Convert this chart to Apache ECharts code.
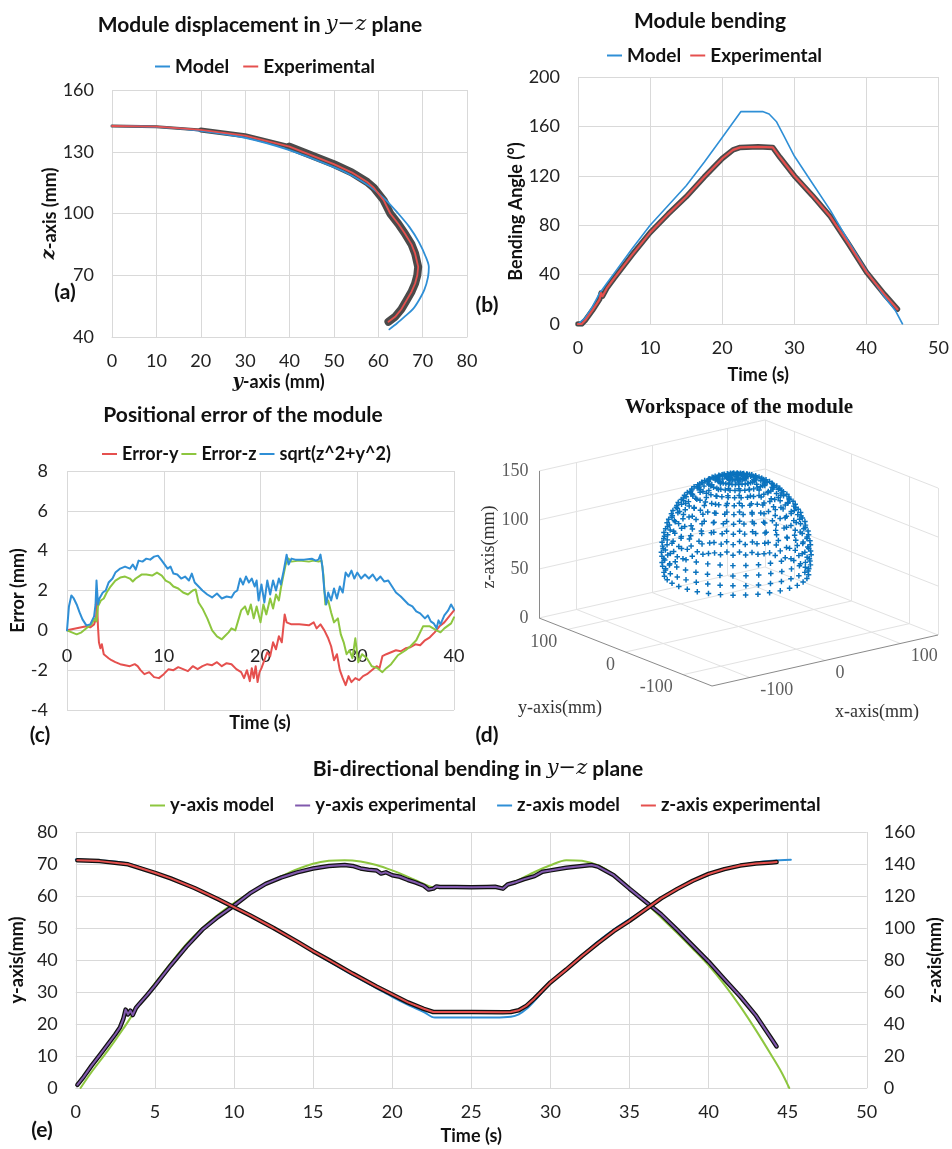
<!DOCTYPE html>
<html>
<head>
<meta charset="utf-8">
<script src="https://cdn.jsdelivr.net/npm/echarts@6/dist/echarts.min.js"></script>
<style>
html, body { margin: 0; padding: 0; background: #fff; }
#main { width: 952px; height: 1149px; }
</style>
</head>
<body>
<div id="main"></div>
<script>
// ---------- (a) module displacement in y-z plane, [y, z] mm
const aModel = [[0,142.5],[10,142.1],[20,140.2],[30,136.8],[40,130.8],[50,122.5],[54,118.5],[58,113.3],[61.5,107],[64.5,100],[67,93.5],[69.2,86],[70.7,79],[71.4,74],[71.2,69],[70.4,63],[69.2,58],[67.8,53.5],[66,50],[64.3,46.8],[62.5,43.7]];
const aExp = [[0,142.5],[10,142.2],[20,140.6],[30,137.8],[40,132.5],[50,124],[54,120],[57.5,115.3],[59,112.5],[61.2,106.5],[62.7,100],[64.5,95],[66,90.3],[67.5,85],[68.3,80.6],[69,74.1],[68.8,70],[68.3,66],[67.5,62],[66.4,57.9],[65.2,53.5],[63.8,49.8],[62.3,47.4]];

// ---------- (b) bending angle, [time s, angle deg]
const bModel = [[0,0],[1,5],[2,14],[3,25],[4,33],[5,41],[7.5,61],[10,80],[12.5,96],[15,112],[17.5,131],[20,151],[22.6,172],[25.6,172],[26.5,170],[27.5,164],[28.5,153],[30,136],[32.5,114],[35,92],[37.5,67],[40,43],[42.5,22],[44,11],[45,0]];
const bExp = [[0,0],[0.5,0],[1,3],[2,11],[3,20],[3.2,25],[3.4,22.5],[4,29],[5,37],[7.5,56],[10,74],[12.5,89],[15,103],[17.5,119],[20,134],[21.5,141],[22.5,143],[25,143.5],[27,143],[28,135],[30,120],[32.5,104],[35,87],[37.5,65],[40,42],[42.5,24],[44.3,12]];

// ---------- (c) positional error, [time s, error mm]
const errY = [[0,0],[0.5,0.05],[1,0.1],[1.5,0.15],[2,0.2],[2.4,0.15],[2.8,0.3],[3.0,0.6],[3.1,1.5],[3.2,0.2],[3.3,-0.6],[3.45,-0.9],[3.6,-0.7],[3.8,-1.2],[4,-1.1],[4.3,-1.4],[4.6,-1.5],[5,-1.6],[5.5,-1.7],[6,-1.75],[6.5,-1.8],[7,-1.7],[7.3,-1.8],[7.6,-2.0],[8,-2.2],[8.5,-2.1],[9,-2.35],[9.5,-2.4],[10,-2.2],[10.5,-1.95],[11,-2.0],[11.5,-1.85],[12,-1.95],[12.5,-2.05],[13,-1.8],[13.5,-1.95],[14,-1.8],[14.5,-1.7],[15,-1.75],[15.5,-1.6],[16,-1.8],[16.5,-1.65],[17,-1.7],[17.5,-1.95],[18,-2.1],[18.3,-2.4],[18.6,-2.0],[18.9,-2.55],[19.1,-1.9],[19.3,-2.4],[19.5,-1.8],[19.7,-2.6],[19.9,-2.1],[20.1,-1.9],[20.4,-1.5],[20.7,-1.1],[21,-1.3],[21.3,-0.6],[21.6,-0.95],[21.9,-0.3],[22.2,-0.6],[22.5,0.8],[22.7,0.4],[22.9,0.3],[23.2,0.3],[24,0.3],[25,0.25],[25.5,0.4],[25.8,0.1],[26.2,0.3],[26.6,0.0],[27,-0.4],[27.3,-0.8],[27.6,-1.5],[27.9,-1.2],[28.2,-2.0],[28.5,-2.4],[28.8,-2.75],[29.1,-2.3],[29.4,-2.6],[29.8,-2.4],[30.2,-2.5],[30.6,-2.3],[31,-2.2],[31.5,-2.0],[32,-1.8],[32.3,-1.9],[32.6,-1.3],[33,-1.2],[33.5,-1.1],[34,-1.0],[34.5,-1.05],[35,-0.9],[35.5,-0.85],[36,-0.7],[36.5,-0.75],[37,-0.5],[37.5,-0.35],[38,-0.1],[38.5,0.2],[39,0.4],[39.5,0.7],[40,1.0]];
const errZ = [[0,0],[0.5,-0.1],[1,-0.2],[1.5,-0.1],[2,0.1],[2.5,0.3],[2.9,0.6],[3.05,0.45],[3.2,1.2],[3.5,1.5],[3.8,1.6],[4.1,1.9],[4.5,2.2],[5,2.5],[5.5,2.65],[6,2.7],[6.5,2.6],[6.8,2.45],[7.1,2.6],[7.4,2.7],[7.7,2.8],[8.2,2.8],[8.8,2.75],[9.3,2.9],[9.8,2.75],[10.2,2.5],[10.6,2.4],[11,2.2],[11.5,2.1],[12,1.9],[12.5,1.8],[13,2.0],[13.3,2.05],[13.6,1.4],[14,1.1],[14.5,0.6],[15,0.0],[15.5,-0.3],[16,-0.45],[16.3,-0.3],[16.7,-0.1],[17,0.1],[17.4,0.0],[17.7,0.5],[18,1.0],[18.4,1.2],[18.7,0.8],[19,1.3],[19.3,0.6],[19.6,1.2],[20,0.4],[20.3,1.3],[20.6,0.8],[21,1.6],[21.3,1.1],[21.6,1.8],[21.9,1.5],[22.1,2.1],[22.3,2.6],[22.6,3.3],[22.9,3.6],[23.2,3.45],[24,3.5],[25,3.45],[25.5,3.5],[26,3.45],[26.3,3.5],[26.5,2.8],[26.7,1.3],[27,1.5],[27.3,0.9],[27.6,0.4],[28,0.6],[28.3,-0.2],[28.6,-0.6],[28.9,-1.2],[29.2,-1.0],[29.5,-1.4],[29.8,-0.4],[30.1,-1.6],[30.5,-1.2],[31,-1.4],[31.5,-1.8],[32.1,-1.9],[32.6,-2.1],[33,-1.9],[33.5,-1.7],[34.2,-1.25],[35,-1.0],[35.5,-0.8],[36.1,-0.5],[36.8,0.2],[37.5,0.2],[38.2,0.0],[38.6,-0.1],[39,0.1],[39.7,0.35],[40,0.65]];
const errNorm = [[0,0],[0.2,1.2],[0.45,1.75],[0.7,1.6],[1,1.3],[1.3,0.9],[1.6,0.55],[2,0.25],[2.4,0.3],[2.8,0.7],[2.95,1.3],[3.05,2.5],[3.2,1.3],[3.35,1.6],[3.5,1.5],[3.7,1.9],[4,2.0],[4.3,2.4],[4.7,2.6],[5,2.9],[5.5,3.1],[6,3.2],[6.5,3.1],[6.8,3.3],[7.1,3.05],[7.4,3.5],[7.8,3.45],[8.2,3.6],[8.6,3.55],[9,3.7],[9.4,3.75],[9.8,3.5],[10.1,3.3],[10.4,3.1],[10.7,3.2],[11,2.85],[11.4,2.8],[11.8,2.6],[12.2,2.7],[12.6,2.5],[12.9,2.85],[13.2,2.4],[13.6,2.2],[14,2.0],[14.5,1.8],[15,1.65],[15.5,1.85],[16,1.6],[16.5,1.7],[17,1.65],[17.3,1.9],[17.6,2.0],[17.9,2.6],[18.2,2.3],[18.5,2.7],[18.8,2.4],[19.1,2.6],[19.4,2.2],[19.6,2.5],[19.8,1.5],[20.1,2.3],[20.4,1.4],[20.7,2.5],[21,1.8],[21.3,2.5],[21.6,2.0],[21.9,2.6],[22.1,2.3],[22.4,3.0],[22.7,3.8],[22.9,3.3],[23.2,3.6],[23.6,3.55],[24.5,3.55],[25.3,3.6],[25.7,3.5],[26,3.55],[26.2,3.8],[26.4,3.2],[26.6,2.0],[26.8,1.3],[27,1.9],[27.3,1.5],[27.6,2.1],[27.9,1.6],[28.2,2.2],[28.5,1.9],[28.8,2.9],[29.1,2.7],[29.4,3.0],[29.7,2.6],[30,2.9],[30.4,2.6],[30.8,2.8],[31.2,2.6],[31.6,2.8],[32,2.5],[32.4,2.7],[32.8,2.45],[33.2,2.5],[33.6,2.2],[34,1.9],[34.5,1.7],[35,1.45],[35.3,1.3],[35.7,1.2],[36.1,0.95],[36.5,0.85],[37,0.6],[37.3,0.75],[37.6,0.45],[37.9,0.35],[38.2,0.1],[38.4,0.5],[38.6,0.3],[39,0.75],[39.4,1.0],[39.7,1.3],[40,1.05]];

// ---------- (d) workspace: rings of the dome (height z, radius r, mm), azimuths in deg
const domeTopZ = 143;
const domeRingZ = [142.3,140.3,137.0,132.4,126.7,119.9,112.1,103.5,94.2,84.4,74.3,64.0,53.7,43.6];
const domeRingR = [10.3,20.4,30.2,39.5,48.1,55.9,62.7,68.4,73.0,76.3,78.3,79.0,78.3,76.3];
const domeAzimuth = [0,10,20,30,40,50,60,70,80,90,100,110,120,130,140,150,160,170,180,190,200,210,220,230,240,250,260,270,280,290,300,310,320,330,340,350];
const domeCenter = [20, 30];
const xTicks3d = [-100, 0, 100];
const yTicks3d = [-100, 0, 100];
const zTicks3d = [0, 50, 100, 150];
const lim3d = 150;

// ---------- (e) bi-directional bending, [time s, mm]
const yModel = [[0.3,0],[1,5],[2,11.5],[3,18.5],[4,26],[5,32.7],[6,39],[7,45],[8,50],[9,54.2],[10,57.8],[11,61],[12,63.8],[13,66.2],[14,68.4],[15,70.1],[16,71],[17,71.2],[18,70.8],[19,69.7],[20,68],[21,66],[22,63.8],[22.7,62.6],[23.5,62.5],[26.5,62.5],[27,62.9],[28,65],[29,67.5],[30,69.6],[31,71.2],[32,71],[33,69.6],[34,66.8],[35,62.5],[36,58],[37,53.3],[38,48.5],[39,43.5],[40,38.3],[41,32.3],[42,25.5],[43,18],[44,10],[44.6,5],[45.1,0]];
const yExp = [[0.1,1],[0.5,3.5],[1,7],[1.5,10.2],[2,13.5],[2.5,16.8],[2.8,19],[3,21.5],[3.15,24.5],[3.3,23],[3.45,24.2],[3.6,22.8],[3.8,25],[4,26.2],[4.5,29],[5,32],[6,38.3],[7,44.2],[8,49.5],[9,53.5],[10,57],[11,60.8],[12,63.8],[13,65.8],[14,67.4],[15,68.6],[16,69.4],[17,69.7],[17.5,69.4],[18,68.6],[18.5,68.2],[19,68],[19.3,67],[19.6,67.4],[20,66.5],[20.5,66],[21,65],[21.5,64.2],[22,63.2],[22.3,62],[22.6,62.3],[22.8,63],[23,62.8],[24,62.8],[25,62.7],[26,62.8],[26.5,62.9],[27,62.3],[27.3,63.6],[27.8,64.3],[28.3,65.2],[29,66.2],[29.5,67.6],[30,68],[31,68.8],[32,69.4],[32.6,69.7],[33,69.2],[34,66.5],[35,62.3],[36,58.3],[37,54.3],[38,49.5],[39,44.5],[40,39.5],[41,34],[42,28.6],[43,22.6],[44,15.2],[44.3,13]];
const zModel = [[0,142.8],[1.5,142.2],[3.3,140.3],[5,134.5],[6,130.8],[7.5,124.5],[9,117.5],[10,112.5],[11,107.5],[12.5,99.5],[14,91],[15,85],[16,79.2],[17.5,70.5],[19,62.5],[20,57],[21,52],[22,47.5],[22.7,44],[26.5,44],[27.5,44.5],[28,46],[28.5,49.5],[29,54.5],[29.5,60],[30,65.5],[31,74.5],[32,83],[33,91.5],[34,99],[35,105.5],[36,112],[37,118.5],[38,124],[39,129],[40,133.3],[41,136.7],[42,139.2],[43,141],[44,142],[45.2,142.6]];
const zExp = [[0.1,142.3],[1.5,141.8],[3.3,139.8],[5,134.5],[6,131],[7.5,125],[9,118],[10,113],[11,108],[12.5,100],[14,91.5],[15,85.5],[16,80],[17.5,71.5],[19,63.5],[20,58.5],[21,53.5],[22,49.5],[22.6,47.5],[25,47.5],[27,47.3],[27.5,47.5],[28,48.6],[28.5,51.5],[29,56],[29.5,61],[30,66],[31,74],[32,82.5],[33,90.5],[34,98],[35,104.5],[36,111.5],[37,118.5],[38,124.3],[39,129.5],[40,133.8],[41,136.8],[42,139],[43,140.3],[44,141],[44.3,141.2]];

// ---------- styling
const FONT = 'Lato, "Liberation Sans", sans-serif';
const SERIF = '"Liberation Serif", "DejaVu Serif", serif';
const MATH = '"DejaVu Serif", serif';
const BLUE = '#2f8fd6', RED = '#e5504e', GREEN = '#8dc63f', PURPLE = '#8159ad';
const GRIDC = '#d9d9d9';
const TICK = 18, NAME = 18;

function valAxis(grid, min, max, interval, extra) {
  return Object.assign({
    type: 'value', gridIndex: grid, min: min, max: max, interval: interval,
    axisLine: { show: false }, axisTick: { show: false },
    splitLine: { lineStyle: { color: GRIDC, width: 1 } },
    axisLabel: { color: '#222', fontFamily: FONT, fontSize: TICK, margin: 15 },
    nameLocation: 'middle',
    nameTextStyle: { color: '#111', fontFamily: FONT, fontWeight: 'bold', fontSize: NAME }
  }, extra || {});
}
const nameRich = {
  b: { fontFamily: FONT, fontWeight: 'bold', fontSize: NAME, color: '#111' },
  i: { fontFamily: MATH, fontStyle: 'italic', fontWeight: 'bold', fontSize: NAME, color: '#111' }
};
const yLabel = m => ({ color: '#222', fontFamily: FONT, fontSize: TICK, margin: m });

function line(name, data, xi, yi, color, width, extra) {
  return Object.assign({
    type: 'line', name: name, data: data, xAxisIndex: xi, yAxisIndex: yi,
    showSymbol: false, symbol: 'none', animation: false, silent: true,
    lineStyle: { color: color, width: width, cap: 'round', join: 'round' }, itemStyle: { color: color }
  }, extra || {});
}

// ---------- (d) projection of the 3D box onto a flat grid
function proj(x, y, z) {
  return [0.7533 * x - 0.5767 * y, 0.17 * x + 0.2267 * y + 0.98 * z];
}
const L = lim3d, Z = zTicks3d[zTicks3d.length - 1];
const lightSegs = [];
xTicks3d.forEach(x => lightSegs.push([[x, -L, 0], [x, L, 0]]));
yTicks3d.forEach(y => lightSegs.push([[-L, y, 0], [L, y, 0]]));
xTicks3d.concat([L]).forEach(x => lightSegs.push([[x, L, 0], [x, L, Z]]));
yTicks3d.concat([-L]).forEach(y => lightSegs.push([[L, y, 0], [L, y, Z]]));
zTicks3d.forEach(z => { lightSegs.push([[-L, L, z], [L, L, z]]); lightSegs.push([[L, -L, z], [L, L, z]]); });
const darkSegs = [[[-L, L, 0], [-L, L, Z]], [[-L, L, 0], [-L, -L, 0]], [[-L, -L, 0], [L, -L, 0]]];
const segData = segs => segs.map(s => ({ coords: [proj.apply(null, s[0]), proj.apply(null, s[1])] }));

const domePts = [proj(domeCenter[0], domeCenter[1], domeTopZ)];
domeRingZ.forEach((z, i) => {
  domeAzimuth.forEach(a => {
    const t = a * Math.PI / 180;
    domePts.push(proj(domeCenter[0] + domeRingR[i] * Math.cos(t), domeCenter[1] + domeRingR[i] * Math.sin(t), z));
  });
});
const zLab = zTicks3d.map(z => ({ name: String(z), value: proj(-L, L, z) }));
const yLab = yTicks3d.map(y => ({ name: String(y), value: proj(-L, y, 0) }));
const xLab = xTicks3d.map(x => ({ name: String(x), value: proj(x, -L, 0) }));
const tickLabel = (pos, off) => ({ show: true, position: pos, distance: 0, offset: off, formatter: '{b}', fontFamily: SERIF, fontSize: 18, color: '#333' });

const chart = echarts.init(document.getElementById('main'), null, { renderer: 'canvas' });

const legendBase = {
  icon: 'rect', itemWidth: 15, itemHeight: 2, orient: 'horizontal',
  textStyle: { fontFamily: FONT, fontWeight: 'bold', fontSize: 19, color: '#111' },
  selectedMode: false
};
const legendFont = s => ({ fontFamily: FONT, fontWeight: 'bold', fontSize: s, color: '#111' });

function txt(x, y, text, opts) {
  return Object.assign({
    type: 'text', x: x, y: y, silent: true,
    style: Object.assign({ text: text, fill: '#111', font: 'bold 21px ' + FONT,
      align: 'center', verticalAlign: 'middle', textAlign: 'center', textVerticalAlign: 'middle' }, (opts && opts.style) || {})
  }, opts && opts.rotation ? { rotation: opts.rotation } : {});
}
const titleRich = {
  a: { fontFamily: FONT, fontWeight: 'bold', fontSize: 21, fill: '#111', color: '#111' },
  m: { fontFamily: MATH, fontStyle: 'italic', fontSize: 21, fill: '#111', color: '#111' }
};

chart.setOption({
  animation: false,
  backgroundColor: '#fff',
  grid: [
    { left: 112, top: 90, width: 355, height: 247 },
    { left: 578, top: 77, width: 362, height: 247 },
    { left: 67, top: 471, width: 387, height: 239 },
    { left: 470, top: 400, width: 482, height: 320 },
    { left: 71, top: 832, width: 805, height: 256 }
  ],
  xAxis: [
    valAxis(0, 0, 80, 10, { axisLine: { show: true, lineStyle: { color: GRIDC } },
      name: '{i|y}{b|-axis (mm)}', nameGap: 36, nameTextStyle: { rich: nameRich, padding: [0, 22, 0, 0] } }),
    valAxis(1, 0, 50, 10, { axisLine: { show: true, lineStyle: { color: GRIDC } },
      name: 'Time (s)', nameGap: 42 }),
    valAxis(2, 0, 40, 10, { offset: -80, axisLine: { show: true, onZero: false, lineStyle: { color: GRIDC } },
      axisLabel: { color: '#222', fontFamily: FONT, fontSize: TICK, margin: 17 } }),
    { type: 'value', gridIndex: 3, min: -268.5, max: 213.5, show: false },
    valAxis(4, 0, 50, 5, { axisLine: { show: true, lineStyle: { color: GRIDC } },
      name: 'Time (s)', nameGap: 39 })
  ],
  yAxis: [
    valAxis(0, 40, 160, 30, { name: '{i|z}{b|-axis (mm)}', nameGap: 49, nameTextStyle: { rich: nameRich },
      axisLabel: yLabel(18) }),
    valAxis(1, 0, 200, 40, { name: 'Bending Angle (°)', nameGap: 50,
      nameTextStyle: { color: '#111', fontFamily: FONT, fontWeight: 'bold', fontSize: NAME, padding: [0, 22, 0, 0] },
      axisLabel: yLabel(18) }),
    valAxis(2, -4, 8, 2, { name: 'Error (mm)', nameGap: 37, axisLabel: yLabel(19) }),
    { type: 'value', gridIndex: 3, min: -93.5, max: 226.5, show: false },
    valAxis(4, 0, 80, 10, { name: 'y-axis(mm)', nameGap: 39, axisLabel: yLabel(18) }),
    valAxis(4, 0, 160, 20, { position: 'right', name: 'z-axis(mm)', nameGap: 55,
      splitLine: { show: false }, axisLabel: yLabel(17) })
  ],
  legend: [
    Object.assign({}, legendBase, { left: 150, top: 52, itemGap: 14, data: ['Model', 'Experimental'] }),
    Object.assign({}, legendBase, { left: 602, top: 41, itemGap: 9, data: ['Model', 'Experimental'] }),
    Object.assign({}, legendBase, { left: 97, top: 440, itemGap: 3, textStyle: legendFont(18), data: ['Error-y', 'Error-z', 'sqrt(z^2+y^2)'] }),
    Object.assign({}, legendBase, { left: 145, top: 791, itemGap: 21, textStyle: legendFont(18.5), data: ['y-axis model', 'y-axis experimental', 'z-axis model', 'z-axis experimental'] })
  ],
  graphic: [
    txt(260, 25, '{a|Module displacement in }{m|y−z}{a| plane}', { style: { rich: titleRich } }),
    txt(710, 21, 'Module bending'),
    txt(243, 415, 'Positional error of the module'),
    txt(739, 408, 'Workspace of the module', { style: { font: 'bold 21px ' + SERIF } }),
    txt(478, 769, '{a|Bi-directional bending in }{m|y−z}{a| plane}', { style: { rich: titleRich } }),
    txt(260, 723, 'Time (s)', { style: { font: 'bold 18px ' + FONT } }),
    txt(65, 292, '(a)', { style: { font: 'bold 21px ' + FONT } }),
    txt(487, 305, '(b)', { style: { font: 'bold 21px ' + FONT } }),
    txt(40, 735, '(c)', { style: { font: 'bold 21px ' + FONT } }),
    txt(487, 735, '(d)', { style: { font: 'bold 21px ' + FONT } }),
    txt(42, 1130, '(e)', { style: { font: 'bold 21px ' + FONT } }),
    txt(489, 547, 'z-axis(mm)', { rotation: Math.PI / 2, style: { font: '18px ' + SERIF, fill: '#333' } }),
    txt(560, 708, 'y-axis(mm)', { style: { font: '18px ' + SERIF, fill: '#333' } }),
    txt(877, 712, 'x-axis(mm)', { style: { font: '18px ' + SERIF, fill: '#333' } })
  ],
  series: [
    // (a) experimental trace is drawn over a dark band that widens along the path
    line('_aBand1', aExp.slice(0, 4), 0, 0, '#4a4a4a', 3),
    line('_aBand2', aExp.slice(2, 6), 0, 0, '#4a4a4a', 5),
    line('_aBand3', aExp.slice(4), 0, 0, '#4a4a4a', 8),
    line('Model', aModel, 0, 0, BLUE, 1.8, { smooth: 0.3 }),
    line('Experimental', aExp, 0, 0, RED, 1.8),
    // (b)
    line('_bBand', bExp, 1, 1, '#4a4a4a', 5.5),
    line('Model', bModel, 1, 1, BLUE, 1.6),
    line('Experimental', bExp, 1, 1, RED, 2.2),
    // (c)
    line('Error-y', errY, 2, 2, RED, 2),
    line('Error-z', errZ, 2, 2, GREEN, 2),
    line('sqrt(z^2+y^2)', errNorm, 2, 2, BLUE, 2),
    // (d)
    { type: 'lines', coordinateSystem: 'cartesian2d', xAxisIndex: 3, yAxisIndex: 3, silent: true, animation: false,
      data: segData(lightSegs), lineStyle: { color: '#e2e2e2', width: 1, opacity: 1, curveness: 0 } },
    { type: 'lines', coordinateSystem: 'cartesian2d', xAxisIndex: 3, yAxisIndex: 3, silent: true, animation: false,
      data: segData(darkSegs), lineStyle: { color: '#8a8a8a', width: 1, opacity: 1, curveness: 0 } },
    { type: 'scatter', xAxisIndex: 3, yAxisIndex: 3, silent: true, animation: false, data: domePts,
      symbol: 'path://M2.2,0H3.8V2.2H6V3.8H3.8V6H2.2V3.8H0V2.2H2.2Z', symbolSize: 5.5, itemStyle: { color: '#0a72bd', opacity: 1 } },
    { type: 'scatter', xAxisIndex: 3, yAxisIndex: 3, silent: true, animation: false, data: zLab,
      symbolSize: 1, itemStyle: { color: 'rgba(0,0,0,0)' }, label: tickLabel('left', [-10, 0]) },
    { type: 'scatter', xAxisIndex: 3, yAxisIndex: 3, silent: true, animation: false, data: yLab,
      symbolSize: 1, itemStyle: { color: 'rgba(0,0,0,0)' }, label: tickLabel('left', [-10, 13]) },
    { type: 'scatter', xAxisIndex: 3, yAxisIndex: 3, silent: true, animation: false, data: xLab,
      symbolSize: 1, itemStyle: { color: 'rgba(0,0,0,0)' }, label: tickLabel('right', [10, 13]) },
    // (e)
    line('y-axis model', yModel, 4, 4, GREEN, 2, { smooth: 0.3 }),
    line('_yBand', yExp, 4, 4, '#111', 4.5),
    line('y-axis experimental', yExp, 4, 4, PURPLE, 2),
    line('z-axis model', zModel, 4, 5, BLUE, 2, { smooth: 0.3 }),
    line('_zBand', zExp, 4, 5, '#111', 4.5),
    line('z-axis experimental', zExp, 4, 5, RED, 2)
  ]
});
</script>
</body>
</html>
